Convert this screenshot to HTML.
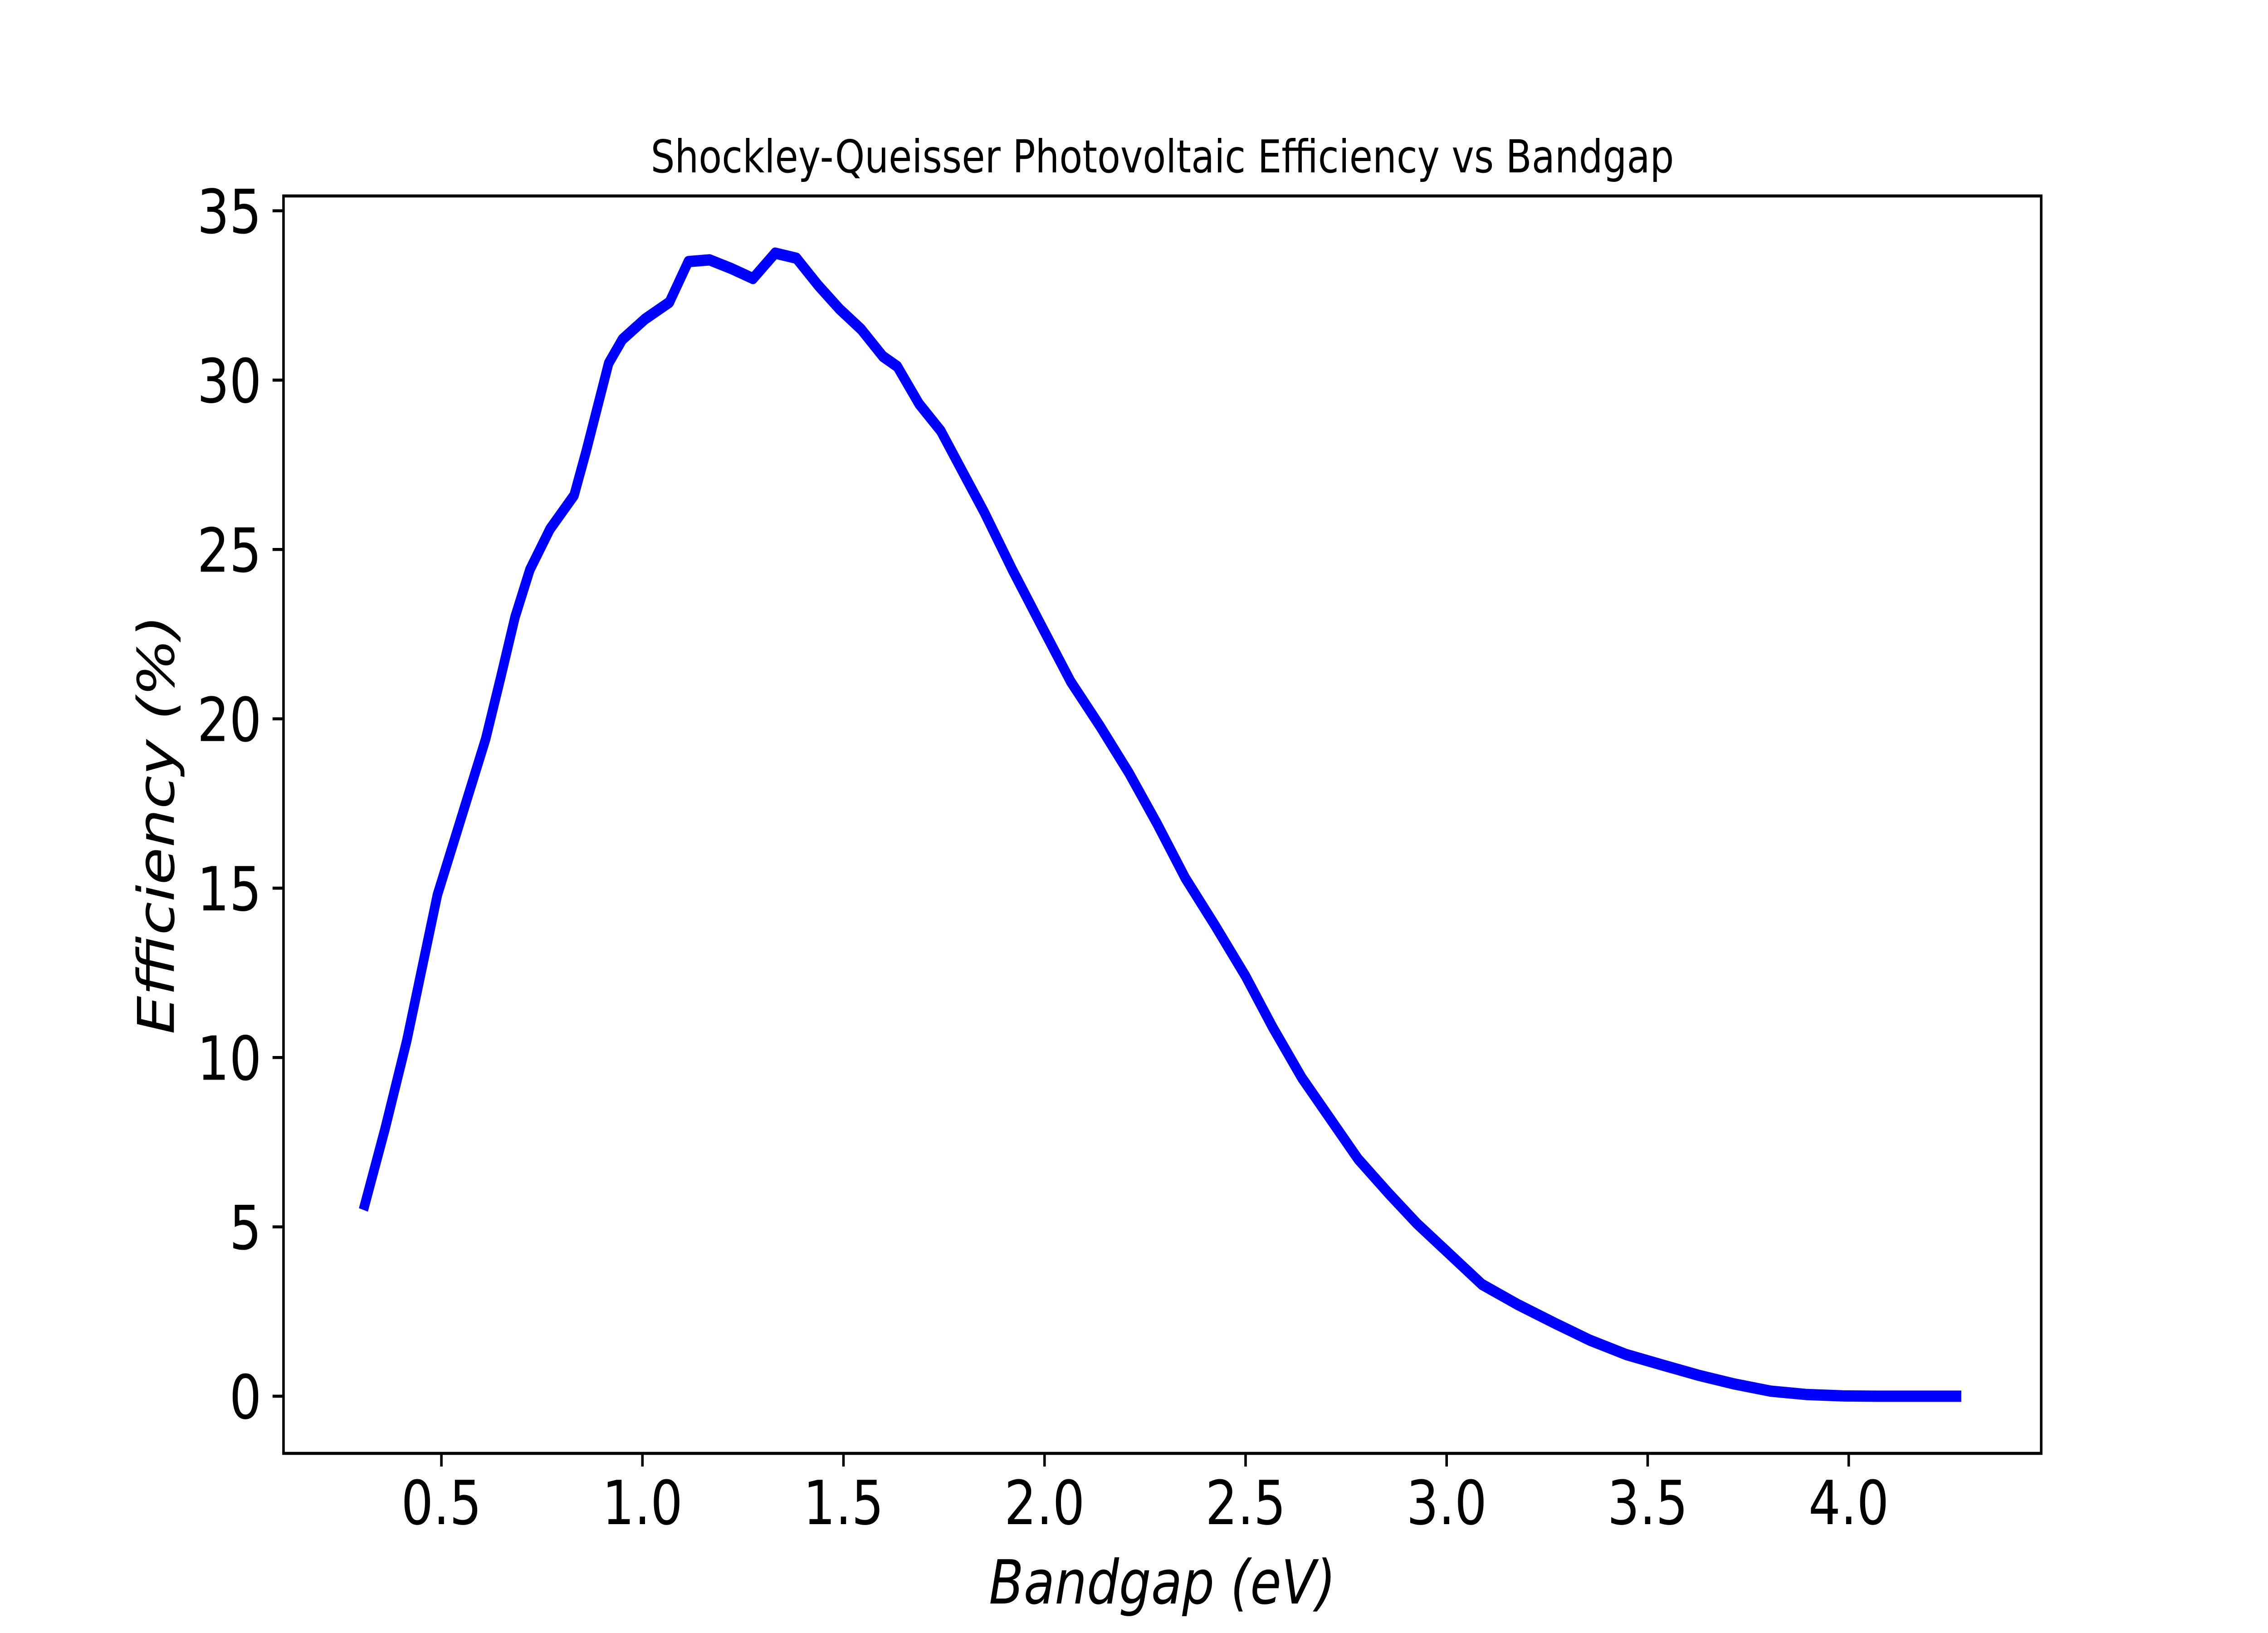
<!DOCTYPE html>
<html><head><meta charset="utf-8"><style>
html,body{margin:0;padding:0;background:#fff;overflow:hidden;width:100%;height:100%}
svg{display:block;width:100vw;height:100vh}
text{font-family:"DejaVu Sans","Liberation Sans",sans-serif;fill:#000}
</style></head>
<body>
<svg id="chart" viewBox="0 0 6000 3600" preserveAspectRatio="none" xmlns="http://www.w3.org/2000/svg">
<rect width="6000" height="3600" fill="#fff"/>
<text x="3075" y="380" font-size="100" text-anchor="middle">Shockley-Queisser Photovoltaic Efficiency vs Bandgap</text>
<g id="plot"></g>
<text x="3075" y="3535" font-size="134" font-style="italic" text-anchor="middle">Bandgap (eV)</text>
<text x="0" y="0" font-size="134" font-style="italic" text-anchor="middle" transform="translate(460,1818) rotate(-90)">Efficiency (%)</text>
</svg>
<script>
const bandgap = [0.306,0.36,0.414,0.49,0.55,0.61,0.647,0.683,0.72,0.77,0.83,0.86,0.916,0.95,1.006,1.067,1.114,1.167,1.22,1.275,1.33,1.383,1.437,1.49,1.544,1.598,1.634,1.688,1.742,1.796,1.85,1.92,1.99,2.065,2.137,2.21,2.28,2.35,2.424,2.5,2.567,2.64,2.71,2.78,2.855,2.926,2.998,3.034,3.088,3.178,3.27,3.357,3.447,3.537,3.626,3.716,3.806,3.896,3.985,4.075,4.28];
const efficiency = [5.5,7.9,10.5,14.8,17.1,19.4,21.2,23.0,24.4,25.6,26.6,27.9,30.5,31.2,31.8,32.3,33.5,33.55,33.3,33.0,33.75,33.6,32.8,32.1,31.5,30.7,30.4,29.3,28.5,27.3,26.1,24.4,22.8,21.1,19.8,18.4,16.9,15.3,13.9,12.4,10.9,9.4,8.2,7.0,6.0,5.1,4.3,3.9,3.3,2.7,2.15,1.65,1.23,0.92,0.62,0.36,0.15,0.05,0.01,0,0];
const xTicks = [0.5,1.0,1.5,2.0,2.5,3.0,3.5,4.0];
const xTickLabels = ["0.5","1.0","1.5","2.0","2.5","3.0","3.5","4.0"];
const yTicks = [0,5,10,15,20,25,30,35];
const yTickLabels = ["0","5","10","15","20","25","30","35"];

const L=750,R=5400,T=432,B=3204;
const xmin0=Math.min(...bandgap),xmax0=Math.max(...bandgap);
const ymin0=Math.min(...efficiency),ymax0=Math.max(...efficiency);
const xm=(xmax0-xmin0)*0.05, ym=(ymax0-ymin0)*0.05;
const xmin=xmin0-xm,xmax=xmax0+xm,ymin=ymin0-ym,ymax=ymax0+ym;
const sx=v=>L+(v-xmin)/(xmax-xmin)*(R-L);
const sy=v=>B-(v-ymin)/(ymax-ymin)*(B-T);
const NS="http://www.w3.org/2000/svg";
const g=document.getElementById('plot');
function mk(tag,attrs){const e=document.createElementNS(NS,tag);for(const k in attrs)e.setAttribute(k,attrs[k]);g.appendChild(e);return e;}

let d=bandgap.map((x,i)=>(i?'L':'M')+sx(x).toFixed(1)+','+sy(efficiency[i]).toFixed(1)).join(' ');
const line=mk('path',{d:d,fill:'none',stroke:'#0000ff','stroke-width':25,'stroke-linejoin':'round','stroke-linecap':'butt'});



xTicks.forEach((v,i)=>{
  const x=sx(v);
  const t=mk('line',{x1:x,x2:x,y1:B,y2:B+29,stroke:'#000','stroke-width':6.7});
  
  
  const lb=mk('text',{x:x,y:B+58+98,'font-size':134,'text-anchor':'middle'});
  lb.textContent=xTickLabels[i];
  
  
});
yTicks.forEach((v,i)=>{
  const y=sy(v);
  const t=mk('line',{x1:L-29,x2:L,y1:y,y2:y,stroke:'#000','stroke-width':6.7});
  
  
  const lb=mk('text',{x:L-58,y:y+49,'font-size':134,'text-anchor':'end'});
  lb.textContent=yTickLabels[i];
  
  
});
const frame=mk('rect',{x:L,y:T,width:R-L,height:B-T,fill:'none',stroke:'#000','stroke-width':6.7});


</script>
</body></html>
